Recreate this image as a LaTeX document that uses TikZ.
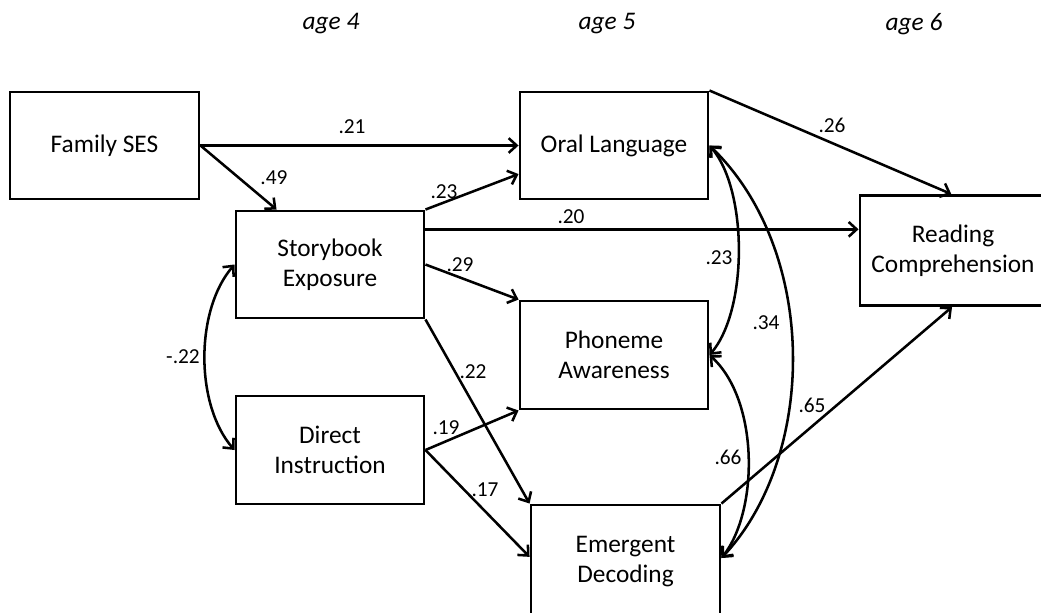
\documentclass[tikz,border=0pt]{standalone}
\usepackage{fontspec}
\setmainfont{Carlito}
\usetikzlibrary{arrows.meta,calc}

\tikzset{
  varbox/.style={draw=black, line width=2.2pt, fill=white, align=center,
    font=\fontsize{19}{22.5}\selectfont, inner sep=0pt},
  path/.style={line width=1.9pt, -{Straight Barb[length=6pt,width=11pt,line width=1.9pt]}},
  cov/.style={line width=1.9pt, {Straight Barb[length=6pt,width=11pt,line width=1.9pt]}-{Straight Barb[length=6pt,width=11pt,line width=1.9pt]}},
  coef/.style={font=\fontsize{16}{18}\selectfont, inner sep=0pt},
  agelabel/.style={font=\fontsize{19}{22}\selectfont\itshape, inner sep=0pt}
}

\begin{document}
\begin{tikzpicture}[x=0.75pt, y=-0.75pt]
\useasboundingbox (0,0) rectangle (1041,612);
\clip (0,0) rectangle (1041,612);

% age headings
\node[agelabel] (age4) at (331,24) {age 4};
\node[agelabel] (age5) at (607,24) {age 5};
\node[agelabel] (age6) at (914,24) {age 6};

% variables
\node[varbox, minimum width=141.75pt, minimum height=80.25pt] (fam)   at (104.5,145.5) {Family SES};
\node[varbox, minimum width=141pt,    minimum height=80.25pt] (story) at (330,264.5)   {Storybook\\Exposure};
\node[varbox, minimum width=141pt,    minimum height=81pt]    (direct) at (330,450)    {Direct\\Instruction};
\node[varbox, minimum width=141pt,    minimum height=80.25pt] (oral)  at (614,145.5)   {Oral Language};
\node[varbox, minimum width=141pt,    minimum height=81pt]    (phon)  at (614,355)     {Phoneme\\Awareness};
\node[varbox, minimum width=141.75pt, minimum height=84.75pt] (emer)  at (625.5,561.5) {Emergent\\Decoding};
\node[varbox, minimum width=147pt,    minimum height=82.5pt]  (read)  at (958,250.5)   {};
\node[align=center, font=\fontsize{19}{22.5}\selectfont, inner sep=0pt] (readtext) at (953,250.5) {Reading\\Comprehension};

% attachment points on the box sides
\coordinate (storyTop)  at ($(story.north west)!0.22!(story.north east)$);
\coordinate (oralIn)    at ($(oral.north west)!0.76!(oral.south west)$);
\coordinate (storyOut)  at ($(story.north east)!0.18!(story.south east)$);
\coordinate (readTop)   at ($(read.north west)!0.466!(read.north east)$);
\coordinate (readBot)   at ($(read.south west)!0.47!(read.south east)$);
\coordinate (emerIn)    at ($(emer.north west)!0.46!(emer.south west)$);
\coordinate (emerCov)   at ($(emer.north east)!0.47!(emer.south east)$);

% directed paths
\draw[path] (fam.east) -- (oral.west);
\draw[path] (fam.east) -- (storyTop);
\draw[path] (story.north east) -- (oralIn);
\draw[path] (storyOut) -- (storyOut -| read.west);
\draw[path] (story.east) -- (phon.north west);
\draw[path] (story.south east) -- (emer.north west);
\draw[path] (direct.east) -- (phon.south west);
\draw[path] (direct.east) -- (emerIn);
\draw[path] (oral.north east) -- (readTop);
\draw[path] (emer.north east) -- (readBot);

% covariances
\draw[cov] (story.west) .. controls (195,310) and (195,405) .. (direct.west);
\draw[cov] (oral.east) .. controls (748,190) and (748,310) .. (phon.east);
\draw[cov] (oral.east) .. controls (818,250) and (818,455) .. (emerCov);
\draw[cov] (phon.east) .. controls (759,400) and (759,510) .. (emerCov);

% coefficients
\node[coef] (c21) at (352,127) {.21};
\node[coef] (c49) at (274,178) {.49};
\node[coef] (c23a) at (444,192) {.23};
\node[coef] (c20) at (571,217) {.20};
\node[coef] (c29) at (460,265) {.29};
\node[coef] (c22) at (473,372) {.22};
\node[coef] (c19) at (446,428) {.19};
\node[coef] (c17) at (485,490) {.17};
\node[coef] (c26) at (832,125) {.26};
\node[coef] (c65) at (812,405) {.65};
\node[coef] (cm22) at (183,357) {-.22};
\node[coef] (c23b) at (719,258) {.23};
\node[coef] (c34) at (766,323) {.34};
\node[coef] (c66) at (728,457) {.66};
\end{tikzpicture}
\end{document}
